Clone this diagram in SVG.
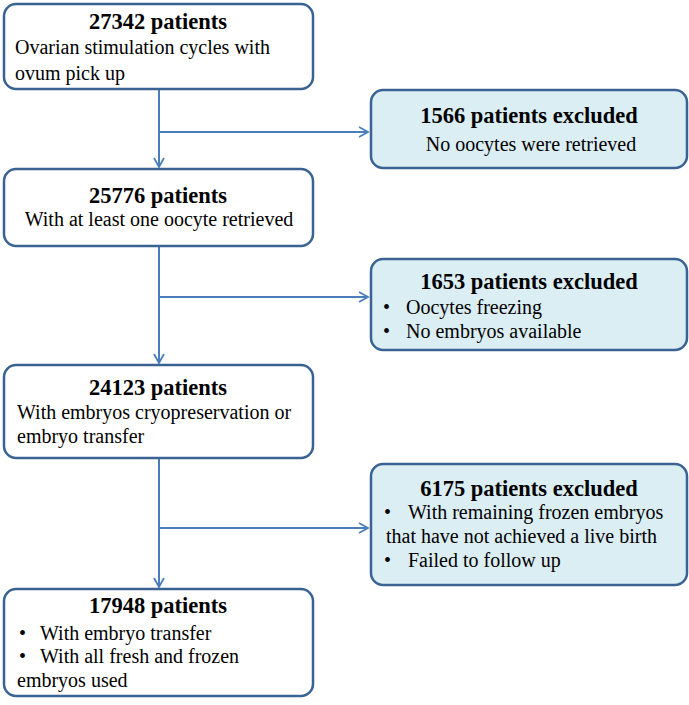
<svg xmlns="http://www.w3.org/2000/svg" width="689" height="705" viewBox="0 0 689 705">
<style>
.box{fill:#ffffff;stroke:#3a6394;stroke-width:2.5}
.exc{fill:#dbeef4;stroke:#3a6394;stroke-width:2.5}
.t{font-family:"Liberation Serif","Times New Roman",serif;font-size:22.5px;font-weight:bold;fill:#000;text-anchor:middle}
.b{font-family:"Liberation Serif","Times New Roman",serif;font-size:20px;fill:#000}
.c{text-anchor:middle}
.ln{stroke:#4a7ebb;stroke-width:2;fill:none}
</style>
<defs>
<marker id="arr" markerWidth="12" markerHeight="12" refX="10" refY="6" orient="auto" markerUnits="userSpaceOnUse">
<path d="M1,1 L10,6 L1,11" fill="none" stroke="#4a7ebb" stroke-width="1.8"/>
</marker>
</defs>
<g id="connectors">
<line class="ln" x1="159" y1="89" x2="159" y2="167" marker-end="url(#arr)"/>
<line class="ln" x1="159" y1="132" x2="368" y2="132" marker-end="url(#arr)"/>
<line class="ln" x1="159" y1="247" x2="159" y2="363" marker-end="url(#arr)"/>
<line class="ln" x1="159" y1="297" x2="368" y2="297" marker-end="url(#arr)"/>
<line class="ln" x1="159" y1="459" x2="159" y2="587" marker-end="url(#arr)"/>
<line class="ln" x1="159" y1="528" x2="368" y2="528" marker-end="url(#arr)"/>
</g>
<g id="n1">
<rect class="box" x="4" y="4" width="309" height="85" rx="12"/>
<text class="t" x="158" y="29">27342 patients</text>
<text class="b" x="15" y="54">Ovarian stimulation cycles with</text>
<text class="b" x="15" y="80">ovum pick up</text>
</g>
<g id="n2">
<rect class="exc" x="371" y="90" width="316" height="78" rx="12"/>
<text class="t" x="529" y="123">1566 patients excluded</text>
<text class="b c" x="531" y="151">No oocytes were retrieved</text>
</g>
<g id="n3">
<rect class="box" x="4" y="169" width="309" height="77" rx="12"/>
<text class="t" x="158" y="203">25776 patients</text>
<text class="b c" x="159" y="226">With at least one oocyte retrieved</text>
</g>
<g id="n4">
<rect class="exc" x="371" y="259" width="316" height="91" rx="12"/>
<text class="t" x="529" y="289">1653 patients excluded</text>
<text class="b" x="383" y="314">•</text>
<text class="b" x="406" y="314">Oocytes freezing</text>
<text class="b" x="383" y="338">•</text>
<text class="b" x="406" y="338">No embryos available</text>
</g>
<g id="n5">
<rect class="box" x="4" y="365" width="309" height="93" rx="12"/>
<text class="t" x="158" y="395">24123 patients</text>
<text class="b" x="17" y="419">With embryos cryopreservation or</text>
<text class="b" x="17" y="443">embryo transfer</text>
</g>
<g id="n6">
<rect class="exc" x="371" y="464" width="316" height="121" rx="12"/>
<text class="t" x="529" y="496">6175 patients excluded</text>
<text class="b" x="384" y="519">•</text>
<text class="b" x="408" y="519">With remaining frozen embryos</text>
<text class="b" x="386" y="543">that have not achieved a live birth</text>
<text class="b" x="384" y="567">•</text>
<text class="b" x="408" y="567">Failed to follow up</text>
</g>
<g id="n7">
<rect class="box" x="4" y="589" width="309" height="107" rx="12"/>
<text class="t" x="158" y="613">17948 patients</text>
<text class="b" x="19" y="640">•</text>
<text class="b" x="40" y="640">With embryo transfer</text>
<text class="b" x="19" y="663">•</text>
<text class="b" x="40" y="663">With all fresh and frozen</text>
<text class="b" x="17" y="687">embryos used</text>
</g>
</svg>
